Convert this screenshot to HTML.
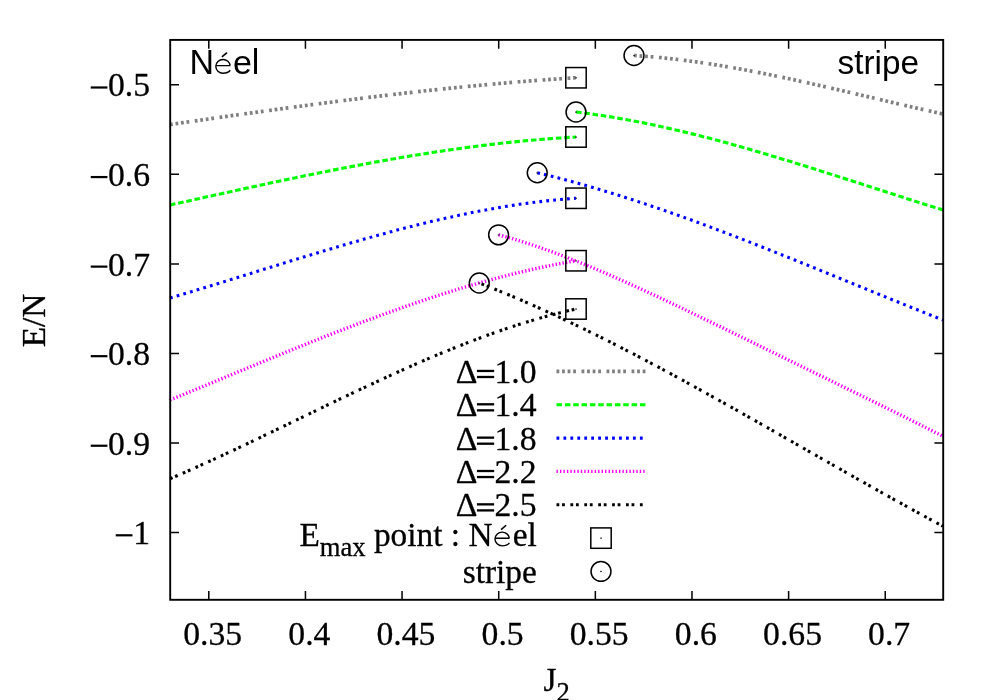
<!DOCTYPE html>
<html><head><meta charset="utf-8"><title>plot</title>
<style>html,body{margin:0;padding:0;background:#fff;}svg{display:block;will-change:transform;}text{font-family:"Liberation Serif",serif;fill:#000;stroke:#000;stroke-width:0.3px;stroke-linejoin:round;}.ss{font-family:"Liberation Sans",sans-serif;stroke:none;}</style></head><body>
<svg width="1000" height="700" viewBox="0 0 1000 700">
<rect width="1000" height="700" fill="#fff"/>
<path d="M170.00,124.50 L175.14,123.76 L180.28,123.02 L185.42,122.28 L190.56,121.54 L195.70,120.81 L200.84,120.07 L205.97,119.34 L211.11,118.60 L216.25,117.87 L221.39,117.14 L226.53,116.41 L231.67,115.68 L236.81,114.96 L241.95,114.24 L247.09,113.51 L252.23,112.80 L257.37,112.08 L262.51,111.37 L267.65,110.66 L272.78,109.95 L277.92,109.24 L283.06,108.54 L288.20,107.84 L293.34,107.15 L298.48,106.46 L303.62,105.77 L308.76,105.08 L313.90,104.40 L319.04,103.73 L324.18,103.05 L329.32,102.38 L334.46,101.72 L339.59,101.06 L344.73,100.41 L349.87,99.76 L355.01,99.11 L360.15,98.47 L365.29,97.83 L370.43,97.20 L375.57,96.58 L380.71,95.96 L385.85,95.35 L390.99,94.74 L396.13,94.14 L401.27,93.54 L406.41,92.95 L411.54,92.37 L416.68,91.79 L421.82,91.22 L426.96,90.65 L432.10,90.10 L437.24,89.55 L442.38,89.00 L447.52,88.47 L452.66,87.94 L457.80,87.42 L462.94,86.90 L468.08,86.40 L473.22,85.90 L478.35,85.41 L483.49,84.92 L488.63,84.45 L493.77,83.98 L498.91,83.52 L504.05,83.08 L509.19,82.63 L514.33,82.20 L519.47,81.78 L524.61,81.37 L529.75,80.96 L534.89,80.56 L540.03,80.18 L545.16,79.80 L550.30,79.44 L555.44,79.08 L560.58,78.73 L565.72,78.39 L570.86,78.07 L576.00,77.75" fill="none" stroke="#808080" stroke-width="3.70" stroke-dasharray="2.78,2.78,2.78,2.78,2.78,2.78,2.78,5.56" stroke-dashoffset="0.00"/>
<path d="M634.00,55.50 L637.91,55.75 L641.82,56.03 L645.73,56.32 L649.65,56.64 L653.56,56.97 L657.47,57.33 L661.38,57.71 L665.29,58.11 L669.20,58.52 L673.11,58.96 L677.03,59.41 L680.94,59.89 L684.85,60.38 L688.76,60.89 L692.67,61.41 L696.58,61.95 L700.49,62.51 L704.41,63.09 L708.32,63.68 L712.23,64.28 L716.14,64.90 L720.05,65.54 L723.96,66.19 L727.87,66.85 L731.78,67.53 L735.70,68.22 L739.61,68.92 L743.52,69.64 L747.43,70.37 L751.34,71.11 L755.25,71.86 L759.16,72.62 L763.08,73.39 L766.99,74.17 L770.90,74.96 L774.81,75.76 L778.72,76.58 L782.63,77.40 L786.54,78.22 L790.46,79.06 L794.37,79.90 L798.28,80.75 L802.19,81.61 L806.10,82.47 L810.01,83.35 L813.92,84.22 L817.84,85.10 L821.75,85.99 L825.66,86.88 L829.57,87.78 L833.48,88.68 L837.39,89.58 L841.30,90.49 L845.22,91.40 L849.13,92.31 L853.04,93.22 L856.95,94.14 L860.86,95.06 L864.77,95.97 L868.68,96.89 L872.59,97.81 L876.51,98.73 L880.42,99.65 L884.33,100.57 L888.24,101.49 L892.15,102.40 L896.06,103.32 L899.97,104.23 L903.89,105.14 L907.80,106.04 L911.71,106.94 L915.62,107.84 L919.53,108.74 L923.44,109.63 L927.35,110.51 L931.27,111.39 L935.18,112.27 L939.09,113.14 L943.00,114.00" fill="none" stroke="#808080" stroke-width="3.70" stroke-dasharray="2.78,2.78,2.78,2.78,2.78,2.78,2.78,5.56" stroke-dashoffset="0.00"/>
<path d="M170.00,205.00 L175.14,203.86 L180.28,202.73 L185.42,201.59 L190.56,200.46 L195.70,199.32 L200.84,198.18 L205.97,197.05 L211.11,195.92 L216.25,194.78 L221.39,193.65 L226.53,192.53 L231.67,191.40 L236.81,190.28 L241.95,189.16 L247.09,188.04 L252.23,186.93 L257.37,185.82 L262.51,184.72 L267.65,183.62 L272.78,182.52 L277.92,181.43 L283.06,180.35 L288.20,179.27 L293.34,178.19 L298.48,177.13 L303.62,176.06 L308.76,175.01 L313.90,173.96 L319.04,172.93 L324.18,171.89 L329.32,170.87 L334.46,169.86 L339.59,168.85 L344.73,167.85 L349.87,166.86 L355.01,165.88 L360.15,164.92 L365.29,163.96 L370.43,163.01 L375.57,162.07 L380.71,161.14 L385.85,160.23 L390.99,159.32 L396.13,158.43 L401.27,157.55 L406.41,156.69 L411.54,155.83 L416.68,154.99 L421.82,154.16 L426.96,153.35 L432.10,152.55 L437.24,151.76 L442.38,150.99 L447.52,150.23 L452.66,149.49 L457.80,148.76 L462.94,148.05 L468.08,147.36 L473.22,146.68 L478.35,146.02 L483.49,145.37 L488.63,144.75 L493.77,144.14 L498.91,143.54 L504.05,142.97 L509.19,142.41 L514.33,141.88 L519.47,141.36 L524.61,140.86 L529.75,140.38 L534.89,139.92 L540.03,139.48 L545.16,139.06 L550.30,138.67 L555.44,138.29 L560.58,137.94 L565.72,137.60 L570.86,137.29 L576.00,137.00" fill="none" stroke="#00ff00" stroke-width="3.10" stroke-dasharray="5.56,2.78" stroke-dashoffset="0.00"/>
<path d="M576.00,112.00 L580.65,112.57 L585.29,113.16 L589.94,113.79 L594.58,114.44 L599.23,115.12 L603.87,115.83 L608.52,116.57 L613.16,117.33 L617.81,118.12 L622.46,118.93 L627.10,119.77 L631.75,120.63 L636.39,121.52 L641.04,122.43 L645.68,123.36 L650.33,124.32 L654.97,125.30 L659.62,126.30 L664.27,127.32 L668.91,128.37 L673.56,129.43 L678.20,130.51 L682.85,131.62 L687.49,132.74 L692.14,133.88 L696.78,135.04 L701.43,136.21 L706.08,137.41 L710.72,138.62 L715.37,139.84 L720.01,141.08 L724.66,142.34 L729.30,143.61 L733.95,144.90 L738.59,146.20 L743.24,147.51 L747.89,148.84 L752.53,150.18 L757.18,151.53 L761.82,152.89 L766.47,154.26 L771.11,155.65 L775.76,157.04 L780.41,158.45 L785.05,159.86 L789.70,161.28 L794.34,162.71 L798.99,164.15 L803.63,165.59 L808.28,167.04 L812.92,168.50 L817.57,169.96 L822.22,171.43 L826.86,172.91 L831.51,174.39 L836.15,175.87 L840.80,177.35 L845.44,178.84 L850.09,180.34 L854.73,181.83 L859.38,183.33 L864.03,184.82 L868.67,186.32 L873.32,187.82 L877.96,189.32 L882.61,190.81 L887.25,192.31 L891.90,193.80 L896.54,195.29 L901.19,196.78 L905.84,198.27 L910.48,199.75 L915.13,201.23 L919.77,202.71 L924.42,204.18 L929.06,205.64 L933.71,207.10 L938.35,208.55 L943.00,210.00" fill="none" stroke="#00ff00" stroke-width="3.10" stroke-dasharray="5.56,2.78" stroke-dashoffset="0.00"/>
<path d="M170.00,298.00 L175.14,296.49 L180.28,294.97 L185.42,293.44 L190.56,291.90 L195.70,290.35 L200.84,288.79 L205.97,287.23 L211.11,285.66 L216.25,284.08 L221.39,282.50 L226.53,280.92 L231.67,279.33 L236.81,277.74 L241.95,276.14 L247.09,274.55 L252.23,272.95 L257.37,271.35 L262.51,269.76 L267.65,268.16 L272.78,266.56 L277.92,264.97 L283.06,263.38 L288.20,261.79 L293.34,260.21 L298.48,258.63 L303.62,257.06 L308.76,255.49 L313.90,253.93 L319.04,252.38 L324.18,250.83 L329.32,249.29 L334.46,247.77 L339.59,246.25 L344.73,244.74 L349.87,243.25 L355.01,241.76 L360.15,240.29 L365.29,238.83 L370.43,237.38 L375.57,235.95 L380.71,234.54 L385.85,233.14 L390.99,231.75 L396.13,230.39 L401.27,229.04 L406.41,227.70 L411.54,226.39 L416.68,225.10 L421.82,223.83 L426.96,222.57 L432.10,221.34 L437.24,220.14 L442.38,218.95 L447.52,217.79 L452.66,216.65 L457.80,215.54 L462.94,214.45 L468.08,213.39 L473.22,212.35 L478.35,211.35 L483.49,210.37 L488.63,209.41 L493.77,208.49 L498.91,207.60 L504.05,206.74 L509.19,205.91 L514.33,205.11 L519.47,204.34 L524.61,203.61 L529.75,202.91 L534.89,202.25 L540.03,201.62 L545.16,201.03 L550.30,200.47 L555.44,199.95 L560.58,199.47 L565.72,199.02 L570.86,198.62 L576.00,198.25" fill="none" stroke="#0000ff" stroke-width="3.10" stroke-dasharray="2.78,4.17" stroke-dashoffset="0.00"/>
<path d="M537.25,172.75 L542.39,173.98 L547.52,175.24 L552.66,176.52 L557.79,177.84 L562.93,179.18 L568.07,180.54 L573.20,181.94 L578.34,183.35 L583.47,184.80 L588.61,186.26 L593.75,187.76 L598.88,189.27 L604.02,190.81 L609.16,192.37 L614.29,193.96 L619.43,195.56 L624.56,197.19 L629.70,198.84 L634.84,200.50 L639.97,202.19 L645.11,203.90 L650.24,205.63 L655.38,207.37 L660.52,209.13 L665.65,210.91 L670.79,212.71 L675.92,214.52 L681.06,216.35 L686.20,218.20 L691.33,220.06 L696.47,221.94 L701.60,223.83 L706.74,225.73 L711.88,227.65 L717.01,229.58 L722.15,231.52 L727.28,233.47 L732.42,235.44 L737.56,237.41 L742.69,239.40 L747.83,241.40 L752.97,243.40 L758.10,245.42 L763.24,247.44 L768.37,249.47 L773.51,251.51 L778.65,253.56 L783.78,255.61 L788.92,257.67 L794.05,259.74 L799.19,261.81 L804.33,263.88 L809.46,265.96 L814.60,268.04 L819.73,270.13 L824.87,272.22 L830.01,274.31 L835.14,276.41 L840.28,278.50 L845.41,280.60 L850.55,282.70 L855.69,284.79 L860.82,286.89 L865.96,288.99 L871.09,291.08 L876.23,293.17 L881.37,295.26 L886.50,297.35 L891.64,299.44 L896.78,301.52 L901.91,303.59 L907.05,305.67 L912.18,307.73 L917.32,309.79 L922.46,311.85 L927.59,313.90 L932.73,315.94 L937.86,317.97 L943.00,320.00" fill="none" stroke="#0000ff" stroke-width="3.10" stroke-dasharray="2.78,4.17" stroke-dashoffset="0.00"/>
<path d="M170.00,400.00 L175.14,397.90 L180.28,395.79 L185.42,393.68 L190.56,391.57 L195.70,389.45 L200.84,387.33 L205.97,385.20 L211.11,383.08 L216.25,380.95 L221.39,378.82 L226.53,376.69 L231.67,374.57 L236.81,372.44 L241.95,370.31 L247.09,368.19 L252.23,366.07 L257.37,363.95 L262.51,361.83 L267.65,359.72 L272.78,357.61 L277.92,355.51 L283.06,353.41 L288.20,351.32 L293.34,349.24 L298.48,347.16 L303.62,345.09 L308.76,343.03 L313.90,340.98 L319.04,338.94 L324.18,336.91 L329.32,334.89 L334.46,332.88 L339.59,330.88 L344.73,328.89 L349.87,326.91 L355.01,324.95 L360.15,323.01 L365.29,321.07 L370.43,319.15 L375.57,317.25 L380.71,315.36 L385.85,313.49 L390.99,311.64 L396.13,309.80 L401.27,307.98 L406.41,306.18 L411.54,304.40 L416.68,302.64 L421.82,300.90 L426.96,299.18 L432.10,297.48 L437.24,295.81 L442.38,294.15 L447.52,292.52 L452.66,290.91 L457.80,289.33 L462.94,287.77 L468.08,286.23 L473.22,284.72 L478.35,283.24 L483.49,281.78 L488.63,280.35 L493.77,278.95 L498.91,277.58 L504.05,276.24 L509.19,274.92 L514.33,273.64 L519.47,272.38 L524.61,271.16 L529.75,269.97 L534.89,268.81 L540.03,267.68 L545.16,266.59 L550.30,265.53 L555.44,264.50 L560.58,263.51 L565.72,262.55 L570.86,261.63 L576.00,260.75" fill="none" stroke="#ff00ff" stroke-width="3.40" stroke-dasharray="1.39,2.08" stroke-dashoffset="0.00"/>
<path d="M498.60,234.85 L504.23,236.36 L509.85,237.95 L515.48,239.60 L521.10,241.31 L526.73,243.09 L532.35,244.93 L537.98,246.82 L543.60,248.77 L549.23,250.78 L554.85,252.83 L560.48,254.93 L566.10,257.07 L571.73,259.26 L577.35,261.49 L582.98,263.76 L588.61,266.07 L594.23,268.41 L599.86,270.79 L605.48,273.19 L611.11,275.63 L616.73,278.10 L622.36,280.59 L627.98,283.10 L633.61,285.64 L639.23,288.21 L644.86,290.79 L650.48,293.39 L656.11,296.00 L661.73,298.64 L667.36,301.29 L672.98,303.95 L678.61,306.62 L684.24,309.31 L689.86,312.00 L695.49,314.71 L701.11,317.42 L706.74,320.14 L712.36,322.87 L717.99,325.60 L723.61,328.33 L729.24,331.07 L734.86,333.82 L740.49,336.56 L746.11,339.31 L751.74,342.06 L757.36,344.81 L762.99,347.57 L768.62,350.32 L774.24,353.07 L779.87,355.83 L785.49,358.58 L791.12,361.33 L796.74,364.08 L802.37,366.83 L807.99,369.58 L813.62,372.33 L819.24,375.08 L824.87,377.83 L830.49,380.58 L836.12,383.33 L841.74,386.08 L847.37,388.83 L852.99,391.58 L858.62,394.33 L864.25,397.09 L869.87,399.84 L875.50,402.60 L881.12,405.37 L886.75,408.14 L892.37,410.92 L898.00,413.70 L903.62,416.49 L909.25,419.29 L914.87,422.09 L920.50,424.91 L926.12,427.74 L931.75,430.58 L937.37,433.43 L943.00,436.30" fill="none" stroke="#ff00ff" stroke-width="3.40" stroke-dasharray="1.39,2.08" stroke-dashoffset="0.00"/>
<path d="M170.00,478.75 L175.14,476.55 L180.28,474.32 L185.42,472.07 L190.56,469.80 L195.70,467.51 L200.84,465.21 L205.97,462.88 L211.11,460.54 L216.25,458.18 L221.39,455.81 L226.53,453.42 L231.67,451.02 L236.81,448.61 L241.95,446.18 L247.09,443.75 L252.23,441.31 L257.37,438.85 L262.51,436.39 L267.65,433.93 L272.78,431.45 L277.92,428.98 L283.06,426.50 L288.20,424.01 L293.34,421.53 L298.48,419.04 L303.62,416.55 L308.76,414.07 L313.90,411.58 L319.04,409.10 L324.18,406.62 L329.32,404.15 L334.46,401.68 L339.59,399.22 L344.73,396.76 L349.87,394.32 L355.01,391.88 L360.15,389.45 L365.29,387.04 L370.43,384.63 L375.57,382.24 L380.71,379.87 L385.85,377.50 L390.99,375.16 L396.13,372.83 L401.27,370.51 L406.41,368.22 L411.54,365.95 L416.68,363.69 L421.82,361.46 L426.96,359.25 L432.10,357.06 L437.24,354.90 L442.38,352.76 L447.52,350.65 L452.66,348.56 L457.80,346.50 L462.94,344.48 L468.08,342.48 L473.22,340.51 L478.35,338.57 L483.49,336.67 L488.63,334.79 L493.77,332.96 L498.91,331.16 L504.05,329.39 L509.19,327.66 L514.33,325.97 L519.47,324.32 L524.61,322.71 L529.75,321.14 L534.89,319.61 L540.03,318.13 L545.16,316.68 L550.30,315.29 L555.44,313.93 L560.58,312.63 L565.72,311.37 L570.86,310.16 L576.00,309.00" fill="none" stroke="#000000" stroke-width="3.10" stroke-dasharray="2.78,2.78,2.78,5.56" stroke-dashoffset="0.00"/>
<path d="M479.25,283.00 L485.12,285.28 L490.99,287.61 L496.86,289.97 L502.73,292.36 L508.60,294.80 L514.47,297.27 L520.34,299.77 L526.21,302.31 L532.08,304.89 L537.95,307.50 L543.82,310.14 L549.69,312.81 L555.56,315.51 L561.43,318.24 L567.30,321.00 L573.17,323.80 L579.04,326.61 L584.91,329.46 L590.78,332.33 L596.66,335.23 L602.53,338.16 L608.40,341.11 L614.27,344.08 L620.14,347.07 L626.01,350.09 L631.88,353.13 L637.75,356.19 L643.62,359.27 L649.49,362.37 L655.36,365.49 L661.23,368.63 L667.10,371.78 L672.97,374.95 L678.84,378.14 L684.71,381.34 L690.58,384.56 L696.45,387.79 L702.32,391.03 L708.19,394.28 L714.06,397.55 L719.93,400.83 L725.80,404.12 L731.67,407.41 L737.54,410.72 L743.41,414.03 L749.28,417.35 L755.15,420.68 L761.02,424.01 L766.89,427.35 L772.76,430.69 L778.63,434.04 L784.50,437.38 L790.37,440.74 L796.24,444.09 L802.11,447.44 L807.98,450.79 L813.85,454.15 L819.72,457.50 L825.59,460.84 L831.47,464.19 L837.34,467.53 L843.21,470.87 L849.08,474.20 L854.95,477.53 L860.82,480.85 L866.69,484.16 L872.56,487.47 L878.43,490.76 L884.30,494.05 L890.17,497.33 L896.04,500.60 L901.91,503.85 L907.78,507.09 L913.65,510.32 L919.52,513.54 L925.39,516.74 L931.26,519.93 L937.13,523.10 L943.00,526.25" fill="none" stroke="#000000" stroke-width="3.10" stroke-dasharray="2.78,2.78,2.78,5.56" stroke-dashoffset="11.50"/>
<path d="M556.5,371.4 L645.8,371.4" fill="none" stroke="#808080" stroke-width="3.70" stroke-dasharray="2.78,2.78,2.78,2.78,2.78,2.78,2.78,5.56"/>
<path d="M556.5,404.8 L645.8,404.8" fill="none" stroke="#00ff00" stroke-width="3.10" stroke-dasharray="5.56,2.78"/>
<path d="M556.5,438.1 L645.8,438.1" fill="none" stroke="#0000ff" stroke-width="3.10" stroke-dasharray="2.78,4.17"/>
<path d="M556.5,471.4 L645.8,471.4" fill="none" stroke="#ff00ff" stroke-width="3.40" stroke-dasharray="1.39,2.08"/>
<path d="M556.5,504.8 L645.0,504.8" fill="none" stroke="#000000" stroke-width="3.10" stroke-dasharray="2.78,2.78,2.78,5.56"/>
<rect x="565.80" y="67.55" width="20.40" height="20.40" fill="none" stroke="#000" stroke-width="1.5"/>
<rect x="575.20" y="77.25" width="1.7" height="1.2" fill="#222"/>
<rect x="565.80" y="126.80" width="20.40" height="20.40" fill="none" stroke="#000" stroke-width="1.5"/>
<rect x="575.20" y="136.50" width="1.7" height="1.2" fill="#222"/>
<rect x="565.80" y="188.05" width="20.40" height="20.40" fill="none" stroke="#000" stroke-width="1.5"/>
<rect x="575.20" y="197.75" width="1.7" height="1.2" fill="#222"/>
<rect x="565.80" y="250.55" width="20.40" height="20.40" fill="none" stroke="#000" stroke-width="1.5"/>
<rect x="575.20" y="260.25" width="1.7" height="1.2" fill="#222"/>
<rect x="565.80" y="298.80" width="20.40" height="20.40" fill="none" stroke="#000" stroke-width="1.5"/>
<rect x="575.20" y="308.50" width="1.7" height="1.2" fill="#222"/>
<circle cx="634.00" cy="55.50" r="9.95" fill="none" stroke="#000" stroke-width="1.5"/>
<rect x="633.20" y="55.00" width="1.7" height="1.2" fill="#222"/>
<circle cx="576.00" cy="112.00" r="9.95" fill="none" stroke="#000" stroke-width="1.5"/>
<rect x="575.20" y="111.50" width="1.7" height="1.2" fill="#222"/>
<circle cx="537.25" cy="172.75" r="9.95" fill="none" stroke="#000" stroke-width="1.5"/>
<rect x="536.45" y="172.25" width="1.7" height="1.2" fill="#222"/>
<circle cx="498.60" cy="234.85" r="9.95" fill="none" stroke="#000" stroke-width="1.5"/>
<rect x="497.80" y="234.35" width="1.7" height="1.2" fill="#222"/>
<circle cx="479.25" cy="283.00" r="9.95" fill="none" stroke="#000" stroke-width="1.5"/>
<rect x="478.45" y="282.50" width="1.7" height="1.2" fill="#222"/>
<rect x="590.80" y="527.90" width="20.40" height="20.40" fill="none" stroke="#000" stroke-width="1.5"/>
<rect x="600.20" y="537.60" width="1.7" height="1.2" fill="#222"/>
<circle cx="601.00" cy="571.40" r="9.95" fill="none" stroke="#000" stroke-width="1.5"/>
<rect x="600.20" y="570.90" width="1.7" height="1.2" fill="#222"/>
<rect x="170.20" y="39.90" width="773.00" height="559.90" fill="none" stroke="#000" stroke-width="1.9"/>
<path d="M208.80,599.80 v-8.80 M208.80,39.90 v8.80 M305.44,599.80 v-8.80 M305.44,39.90 v8.80 M402.07,599.80 v-8.80 M402.07,39.90 v8.80 M498.71,599.80 v-8.80 M498.71,39.90 v8.80 M595.34,599.80 v-8.80 M595.34,39.90 v8.80 M691.98,599.80 v-8.80 M691.98,39.90 v8.80 M788.61,599.80 v-8.80 M788.61,39.90 v8.80 M885.25,599.80 v-8.80 M885.25,39.90 v8.80 M170.20,84.80 h8.80 M943.20,84.80 h-8.80 M170.20,174.36 h8.80 M943.20,174.36 h-8.80 M170.20,263.92 h8.80 M943.20,263.92 h-8.80 M170.20,353.48 h8.80 M943.20,353.48 h-8.80 M170.20,443.04 h8.80 M943.20,443.04 h-8.80 M170.20,532.60 h8.80 M943.20,532.60 h-8.80" fill="none" stroke="#000" stroke-width="1.5"/>
<text transform="translate(129.07,96.40) scale(1,1.025)" font-size="33.7" text-anchor="middle">0.5</text>
<rect x="90.74" y="86.40" width="16.7" height="2.2" fill="#000"/>
<text transform="translate(129.07,185.96) scale(1,1.025)" font-size="33.7" text-anchor="middle">0.6</text>
<rect x="90.74" y="175.96" width="16.7" height="2.2" fill="#000"/>
<text transform="translate(129.07,275.52) scale(1,1.025)" font-size="33.7" text-anchor="middle">0.7</text>
<rect x="90.74" y="265.52" width="16.7" height="2.2" fill="#000"/>
<text transform="translate(129.07,365.08) scale(1,1.025)" font-size="33.7" text-anchor="middle">0.8</text>
<rect x="90.74" y="355.08" width="16.7" height="2.2" fill="#000"/>
<text transform="translate(129.07,454.64) scale(1,1.025)" font-size="33.7" text-anchor="middle">0.9</text>
<rect x="90.74" y="444.64" width="16.7" height="2.2" fill="#000"/>
<text transform="translate(141.57,544.20) scale(1,1.025)" font-size="33.7" text-anchor="middle">1</text>
<rect x="115.74" y="534.20" width="16.7" height="2.2" fill="#000"/>
<text transform="translate(212.70,644.6) scale(1,1.025)" font-size="33.7" text-anchor="middle">0.35</text>
<text transform="translate(309.34,644.6) scale(1,1.025)" font-size="33.7" text-anchor="middle">0.4</text>
<text transform="translate(405.97,644.6) scale(1,1.025)" font-size="33.7" text-anchor="middle">0.45</text>
<text transform="translate(502.61,644.6) scale(1,1.025)" font-size="33.7" text-anchor="middle">0.5</text>
<text transform="translate(599.24,644.6) scale(1,1.025)" font-size="33.7" text-anchor="middle">0.55</text>
<text transform="translate(695.88,644.6) scale(1,1.025)" font-size="33.7" text-anchor="middle">0.6</text>
<text transform="translate(792.51,644.6) scale(1,1.025)" font-size="33.7" text-anchor="middle">0.65</text>
<text transform="translate(889.15,644.6) scale(1,1.025)" font-size="33.7" text-anchor="middle">0.7</text>
<text transform="translate(44.6,320.4) rotate(-90)" font-size="33.33" text-anchor="middle">E/N</text>
<text x="543.5" y="691.2" font-size="33.33">J<tspan font-size="26.6" dy="10">2</tspan></text>
<text class="ss" transform="translate(189.50,73.60) scale(1,1.045)" font-size="34.0">N</text>
<text class="ss" transform="translate(232.95,73.60) scale(1,1.000)" font-size="34.0">e</text>
<text class="ss" transform="translate(251.86,73.60) scale(1,1.045)" font-size="34.0">l</text>
<g transform="translate(0.00,0.00)" fill="none" stroke="#000" stroke-width="1.4"><path d="M230.2,65.6 A7.2,6.85 0 0 0 223,59.5 A7.2,6.85 0 0 0 215.8,66.35 A7.2,6.85 0 0 0 223,73.2 Q227.8,73.2 230.3,70.2 M215.8,65.6 L230.2,65.6"/><path d="M221.9,56.9 L227,52.6" stroke-width="1.6"/></g>
<text class="ss" transform="translate(837.58,73.60) scale(1,1.000)" font-size="33.3">s</text>
<text class="ss" transform="translate(854.23,73.60) scale(1,1.040)" font-size="33.3">t</text>
<text class="ss" transform="translate(863.49,73.60) scale(1,1.000)" font-size="33.3">r</text>
<text class="ss" transform="translate(874.58,73.60) scale(1,1.025)" font-size="33.3">i</text>
<text class="ss" transform="translate(881.97,73.60) scale(1,1.000)" font-size="33.3">p</text>
<text class="ss" transform="translate(900.49,73.60) scale(1,1.000)" font-size="33.3">e</text>
<text transform="translate(515.47,383.00) scale(1,1.025)" font-size="33.7" text-anchor="middle">1.0</text>
<rect x="476.94" y="369.80" width="17.2" height="2.3" fill="#000"/>
<rect x="476.94" y="375.85" width="17.2" height="2.3" fill="#000"/>
<text transform="translate(466.54,382.80) scale(1,1.0)" font-size="33.7" text-anchor="middle">Δ</text>
<text transform="translate(515.47,416.35) scale(1,1.025)" font-size="33.7" text-anchor="middle">1.4</text>
<rect x="476.94" y="403.15" width="17.2" height="2.3" fill="#000"/>
<rect x="476.94" y="409.20" width="17.2" height="2.3" fill="#000"/>
<text transform="translate(466.54,416.15) scale(1,1.0)" font-size="33.7" text-anchor="middle">Δ</text>
<text transform="translate(515.47,449.70) scale(1,1.025)" font-size="33.7" text-anchor="middle">1.8</text>
<rect x="476.94" y="436.50" width="17.2" height="2.3" fill="#000"/>
<rect x="476.94" y="442.55" width="17.2" height="2.3" fill="#000"/>
<text transform="translate(466.54,449.50) scale(1,1.0)" font-size="33.7" text-anchor="middle">Δ</text>
<text transform="translate(515.47,483.05) scale(1,1.025)" font-size="33.7" text-anchor="middle">2.2</text>
<rect x="476.94" y="469.85" width="17.2" height="2.3" fill="#000"/>
<rect x="476.94" y="475.90" width="17.2" height="2.3" fill="#000"/>
<text transform="translate(466.54,482.85) scale(1,1.0)" font-size="33.7" text-anchor="middle">Δ</text>
<text transform="translate(515.47,516.40) scale(1,1.025)" font-size="33.7" text-anchor="middle">2.5</text>
<rect x="476.94" y="503.20" width="17.2" height="2.3" fill="#000"/>
<rect x="476.94" y="509.25" width="17.2" height="2.3" fill="#000"/>
<text transform="translate(466.54,516.20) scale(1,1.0)" font-size="33.7" text-anchor="middle">Δ</text>
<text x="460.0" y="545.80" font-size="33.33" text-anchor="end">E<tspan font-size="26.6" dy="10">max</tspan><tspan dy="-10"> point :</tspan></text>
<text x="468.4" y="545.80" font-size="33.33">N</text>
<g transform="translate(279.15,472.65)" fill="none" stroke="#000" stroke-width="1.4"><path d="M230.2,65.6 A7.2,6.85 0 0 0 223,59.5 A7.2,6.85 0 0 0 215.8,66.35 A7.2,6.85 0 0 0 223,73.2 Q227.8,73.2 230.3,70.2 M215.8,65.6 L230.2,65.6"/><path d="M221.9,56.9 L227,52.6" stroke-width="1.6"/></g>
<text x="536.80" y="545.80" font-size="33.33" text-anchor="end">el</text>
<text x="536.80" y="582.50" font-size="33.33" text-anchor="end">stripe</text>
</svg></body></html>
